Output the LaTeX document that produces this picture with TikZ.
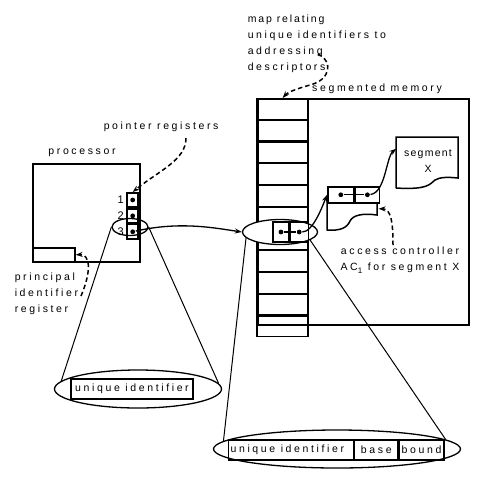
\documentclass[tikz,border=0pt]{standalone}
\usepackage{fontspec}
\setmainfont[LetterSpace=25]{Liberation Sans}
\usetikzlibrary{positioning,shapes.geometric,arrows.meta}
\begin{document}
\begin{tikzpicture}[x=1pt,y=-1pt,line width=1.5pt,
  every node/.style={font=\fontsize{10.5}{16}\selectfont, inner sep=0pt},
  box/.style={draw, rectangle, line width=1.6pt},
  cell/.style={draw, rectangle, line width=1.2pt, minimum width=50pt, minimum height=20.55pt},
  reg/.style={box, minimum width=11pt, minimum height=14.3pt},
  slot/.style={draw, rectangle, minimum height=20pt, line width=1.2pt},
  ring/.style={draw, ellipse, inner sep=0pt, line width=1.3pt},
  dot/.style={circle, fill, minimum size=4.8pt},
  ptr/.style={line width=1.3pt, -{Stealth[length=7pt,width=5pt]}},
  note/.style={line width=1.5pt, dash pattern=on 4.5pt off 3pt, -{Stealth[length=7pt,width=5pt]}},
  ray/.style={line width=1pt}]
  \useasboundingbox (0,0) rectangle (500,491);

  % processor with its registers
  \node[box, anchor=north west, minimum width=107pt, minimum height=98pt] (proc) at (32,163) {};
  \node at (82,153) {processor};
  \node[box, anchor=south west, minimum width=42pt, minimum height=14pt] (pir) at (proc.south west) {};
  \node[reg, anchor=north east] (reg1) at (139,192) {};
  \node[reg, below=0pt of reg1] (reg2) {};
  \node[reg, below=0pt of reg2] (reg3) {};
  \foreach \r in {1,2,3} {
    \node[dot] (d\r) at (reg\r) {};
    \node[left=2pt of reg\r, font=\fontsize{11}{12}\selectfont] {\r};
  }
  \node[ring, minimum width=36pt, minimum height=17pt] (ring1) at (130,227) {};

  % segmented memory and its map
  \node[box, anchor=north west, minimum width=211pt, minimum height=226pt] (mem) at (257,98) {};
  \node at (377,89) {segmented memory};
  \node[cell, anchor=north west] (m1) at (257,98) {};
  \foreach \i [remember=\i as \j (initially 1)] in {2,...,11}
    \node[cell, below=0pt of m\j] (m\i) {};
  \draw[line width=1.6pt] (m1.north west) -- (m11.south west) (m1.north east) -- (m11.south east);
  \node[ring, fill=white, minimum width=75pt, minimum height=25pt] (ring2) at (280,232) {};
  \node[slot, minimum width=16pt] (uidp) at (281,232) {};
  \node[slot, minimum width=18pt, right=0pt of uidp] (acp) {};
  \node[dot] (du) at (uidp) {};
  \node[dot] (da) at (acp) {};
  \draw[line width=1.2pt] (du) -- (da);

  % access controller
  \node[anchor=north west, minimum width=50pt, minimum height=44pt] (ac) at (327,186) {};
  \node[box, anchor=north west, minimum width=26pt, minimum height=16pt] (acl) at (ac.north west) {};
  \node[box, anchor=north west, minimum width=24pt, minimum height=16pt] (acr) at (acl.north east) {};
  \draw[line width=1.5pt] (377,202) -- (377,215)
    .. controls (363,213) and (353,215) .. (350,221)
    .. controls (347,228) and (340,231) .. (327,230) -- (327,202);
  \node[dot] (dl) at (acl) {};
  \node[dot] (dr) at (acr) {};
  \draw[line width=1.2pt] (dl) -- (dr);

  % segment X
  \node[align=center, minimum width=62pt, minimum height=51pt] (seg) at (428,161)
    {\addfontfeature{LetterSpace=12}segment\\X};
  \draw[line width=1.5pt] (396,188) -- (396,137) -- (458,137) -- (458,178)
    .. controls (448,177) and (440,177) .. (435,180)
    .. controls (430,184) and (428,190) .. (396,188);

  % text notes
  \node[anchor=west] (ptrtxt) at (103,127) {pointer registers};
  \node[anchor=north west, align=left] (pirtxt) at (14,272) {principal\\identifier\\register};
  \node[anchor=north west, align=left] (maptxt) at (247,14)
    {\addfontfeature{LetterSpace=18}map relating\\unique identifiers to\\addressing\\descriptors};
  \node[align=center] (actxt) at (400,260) {access controller\\AC\raisebox{-2.5pt}{\fontsize{8}{8}\selectfont 1} for segment X};
  \coordinate (ptrnote) at (186,138);
  \coordinate (pirnote) at (81,296);
  \coordinate (mapnote) at (318,54);
  \coordinate (acnote) at (393,245);

  % enlarged contents
  \node[ring, minimum width=167pt, minimum height=38pt] (ring3) at (138,389) {};
  \node[slot, minimum width=122pt] (uid1) at (132,389) {unique identifier};
  \node[ring, minimum width=247pt, minimum height=38pt] (ring4) at (337,449) {};
  \node[slot, minimum width=125pt, anchor=west] (uid2) at (228,450) {\makebox[121pt][l]{unique identifier}};
  \node[slot, minimum width=43pt, right=0pt of uid2] (base) {base};
  \node[slot, minimum width=45pt, right=0pt of base] (bound) {bound};

  % rays
  \draw[ray] (ring1.west) -- (ring3.174);
  \draw[ray] (ring1.east) -- (ring3.4);
  \draw[ray] (ring2.190) -- (ring4.176);
  \draw[ray] (ring2.345) -- (ring4.5);

  % pointers
  \draw[ptr] (d3) .. controls (180,221) and (215,228) .. (ring2.west);
  \draw[ptr] (da) .. controls +(14,0) and +(-4,10) .. (acl.west);
  \draw[ptr] (dr) .. controls +(18,-2) and +(-10,8) .. ([yshift=-14pt]seg.north west);

  % dashed notes
  \draw[note] (ptrnote) .. controls (186,160) and (160,170) .. (reg1.north);
  \draw[note] (pirnote) .. controls (92,270) and (90,254) .. (pir.east);
  \draw[note] (mapnote) .. controls (334,62) and (330,80) .. (310,85)
    .. controls (296,89) and (288,92) .. (m1.north);
  \draw[note] (acnote) .. controls (393,222) and (391,209) .. (ac.east);
\end{tikzpicture}
\end{document}
